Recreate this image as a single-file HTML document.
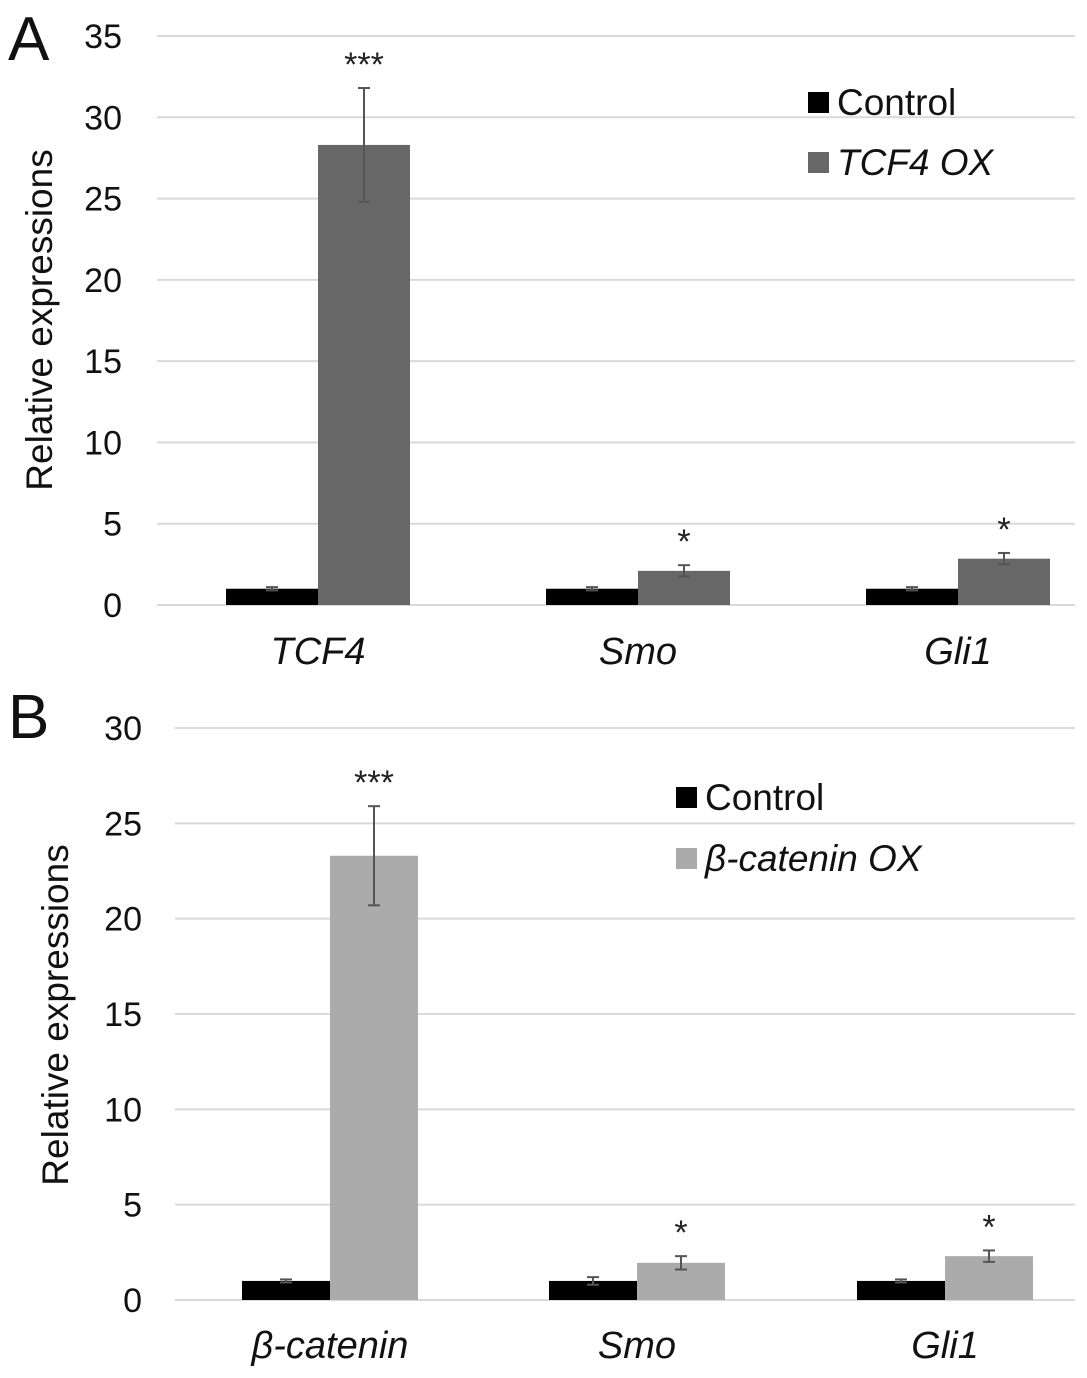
<!DOCTYPE html>
<html><head><meta charset="utf-8"><style>
html,body{margin:0;padding:0;background:#fff;}
svg{display:block;font-family:"Liberation Sans",sans-serif;}
</style></head><body>
<svg id="chart" width="1087" height="1378" viewBox="0 0 1087 1378"></svg>
<script>
const catsA = ["TCF4","Smo","Gli1"];
const ctrlA = [1,1,1];
const ctrlErrA = [0.1,0.1,0.1];
const oxA = [28.3,2.1,2.85];
const oxErrA = [3.5,0.35,0.35];
const sigA = ["***","*","*"];
const ticksA = [0,5,10,15,20,25,30,35];

const catsB = ["β-catenin","Smo","Gli1"];
const ctrlB = [1,1,1];
const ctrlErrB = [0.08,0.2,0.08];
const oxB = [23.3,1.95,2.3];
const oxErrB = [2.6,0.35,0.3];
const sigB = ["***","*","*"];
const ticksB = [0,5,10,15,20,25,30];

const svg = document.getElementById('chart');
const NS = 'http://www.w3.org/2000/svg';
function mk(tag, attrs, parent){const e=document.createElementNS(NS,tag);for(const k in attrs)e.setAttribute(k,attrs[k]);(parent||svg).appendChild(e);return e;}

function panel(cfg){
  const g = mk('g',{});
  
  
  const y = v => cfg.y0 - (v/cfg.ymax)*(cfg.y0-cfg.yTop);
  const lbl = mk('text',{x:cfg.letterX,y:cfg.letterY,'font-size':62,fill:'#111'},g);
  lbl.textContent = cfg.letter;
  
  
  cfg.ticks.forEach(t=>{
    const l = mk('line',{x1:cfg.gx0,x2:cfg.gx1,y1:y(t),y2:y(t),stroke:'#d9d9d9','stroke-width':2},g);
    
    
    const tx = mk('text',{x:cfg.tickX,y:y(t)+12,'font-size':34,'text-anchor':'end',fill:'#111'},g);
    tx.textContent = t;
    
    
  });
  const yt = mk('text',{x:0,y:0,'font-size':37,'text-anchor':'middle',fill:'#111',transform:`translate(${cfg.titleX},${cfg.titleY}) rotate(-90)`},g);
  yt.textContent = 'Relative expressions';
  
  
  cfg.cats.forEach((c,i)=>{
    const cx = cfg.centers[i], w = cfg.bw;
    const b1 = mk('rect',{x:cx-w,y:y(cfg.ctrl[i]),width:w,height:y(0)-y(cfg.ctrl[i]),fill:'#000'},g);
    
    
    const b2 = mk('rect',{x:cx,y:y(cfg.ox[i]),width:w,height:y(0)-y(cfg.ox[i]),fill:cfg.oxColor},g);
    
    
    [[cx-w/2,cfg.ctrl[i],cfg.ctrlErr[i]],[cx+w/2,cfg.ox[i],cfg.oxErr[i]]].forEach(([ex,v,e])=>{
      const eg = mk('g',{stroke:'#555','stroke-width':2},g);
      
      
      mk('line',{x1:ex,x2:ex,y1:y(v+e),y2:y(v-e)},eg);
      mk('line',{x1:ex-6,x2:ex+6,y1:y(v+e),y2:y(v+e)},eg);
      mk('line',{x1:ex-6,x2:ex+6,y1:y(v-e),y2:y(v-e)},eg);
    });
    const s = mk('text',{x:cx+w/2,y:y(cfg.ox[i]+cfg.oxErr[i])-12,'font-size':34,'text-anchor':'middle',fill:'#222'},g);
    s.textContent = cfg.sig[i];
    
    
    const cl = mk('text',{x:cx,y:cfg.catY,'font-size':38,'font-style':'italic','text-anchor':'middle',fill:'#111'},g);
    cl.textContent = c;
    
    
  });
  [['#000','Control','normal',cfg.legY1],[cfg.oxColor,cfg.oxName,'italic',cfg.legY2]].forEach(([col,name,st,ly])=>{
    const lg = mk('g',{},g);
    
    
    mk('rect',{x:cfg.legX,y:ly-10,width:21,height:21,fill:col},lg);
    const t = mk('text',{x:cfg.legX+29,y:ly+13,'font-size':37,'font-style':st,fill:'#111'},lg);
    t.textContent = name;
  });
}

panel({name:'panel-a',letter:'A',letterX:8,letterY:60,cats:catsA,ctrl:ctrlA,ctrlErr:ctrlErrA,ox:oxA,oxErr:oxErrA,sig:sigA,ticks:ticksA,
  ymax:35,y0:605,yTop:36,gx0:157,gx1:1075,tickX:122,titleX:52,titleY:320,centers:[318,638,958],bw:92,catY:664,
  oxColor:'#676767',oxName:'TCF4 OX',legX:808,legY1:102,legY2:162});
panel({name:'panel-b',letter:'B',letterX:8,letterY:738,cats:catsB,ctrl:ctrlB,ctrlErr:ctrlErrB,ox:oxB,oxErr:oxErrB,sig:sigB,ticks:ticksB,
  ymax:30,y0:1300,yTop:728,gx0:175,gx1:1075,tickX:142,titleX:68,titleY:1015,centers:[330,637,945],bw:88,catY:1358,
  oxColor:'#ababab',oxName:'β-catenin OX',legX:676,legY1:797,legY2:858});
</script>
</body></html>
